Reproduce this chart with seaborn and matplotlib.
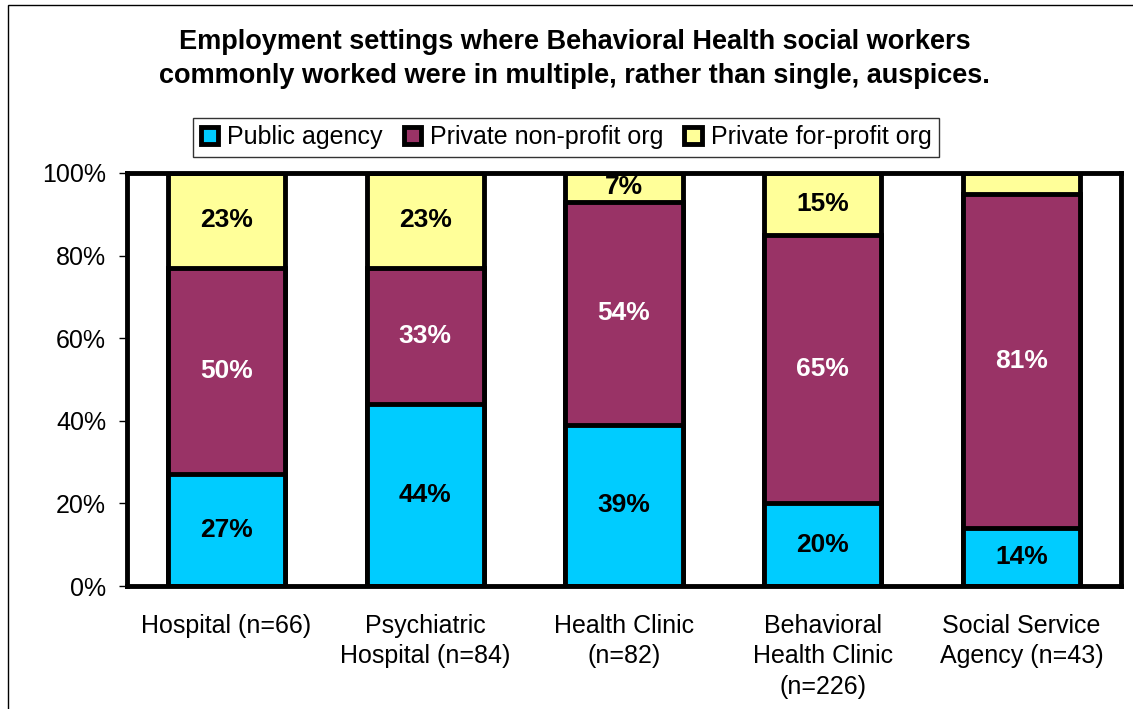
import matplotlib
matplotlib.use("Agg")
import matplotlib.pyplot as plt
import seaborn as sns
import pandas as pd
import numpy as np
from matplotlib.patches import Rectangle, Patch

categories = ["Hospital (n=66)", "Psychiatric\nHospital (n=84)", "Health Clinic\n(n=82)",
              "Behavioral\nHealth Clinic\n(n=226)", "Social Service\nAgency (n=43)"]
public = [27, 44, 39, 20, 14]
nonprofit = [50, 33, 54, 65, 81]
forprofit = [23, 23, 7, 15, 5]
forprofit_labels = ["23%", "23%", "7%", "15%", ""]
series_names = ["Public agency", "Private non-profit org", "Private for-profit org"]
colors = ["#00CCFF", "#993366", "#FFFF99"]

sns.set_theme(style="white")
plt.rcParams['font.family'] = ['Liberation Sans', 'DejaVu Sans']
plt.rcParams['text.color'] = 'black'
plt.rcParams['xtick.color'] = 'black'
plt.rcParams['ytick.color'] = 'black'
plt.rcParams['axes.labelcolor'] = 'black'

fig = plt.figure(figsize=(11.33, 7.09), dpi=100)
ax = fig.add_axes([127/1133, 1-586/709, (1121-127)/1133, (586-173)/709])

df = pd.DataFrame({"cat": categories, "public": public, "nonprofit": nonprofit, "forprofit": forprofit})
df["c1"] = df["public"]
df["c2"] = df["public"] + df["nonprofit"]
df["c3"] = df["c2"] + df["forprofit"]

for col, colr in zip(["c3", "c2", "c1"], colors[::-1]):
    sns.barplot(data=df, x="cat", y=col, color=colr, width=0.59, edgecolor="black",
                linewidth=3.5, saturation=1, ax=ax, order=categories)

lab_fs = 19
for i in range(len(categories)):
    ax.text(i, public[i]/2, f"{public[i]}%", ha="center", va="center", fontsize=lab_fs, fontweight="bold", color="black")
    ax.text(i, public[i] + nonprofit[i]/2, f"{nonprofit[i]}%", ha="center", va="center", fontsize=lab_fs, fontweight="bold", color="white")
    if forprofit_labels[i]:
        ax.text(i, public[i] + nonprofit[i] + forprofit[i]/2, forprofit_labels[i], ha="center", va="center",
                fontsize=lab_fs, fontweight="bold", color="black")

ax.set_ylim(0, 100)
ax.set_xlim(-0.5, len(categories) - 0.5)
ax.set_yticks([0, 20, 40, 60, 80, 100])
ax.set_yticklabels([f"{v}%" for v in [0, 20, 40, 60, 80, 100]], fontsize=18)
ax.set_xticks(range(len(categories)))
ax.set_xticklabels(categories, fontsize=18, linespacing=1.35)
ax.set_xticks(np.arange(-0.5, len(categories), 1), minor=True)
ax.tick_params(axis="x", which="major", length=0, pad=20)
ax.tick_params(axis="x", which="minor", length=6, width=1, direction="out", color="black")
ax.tick_params(axis="y", which="major", length=6, width=1, direction="out", color="black", left=True, pad=9)
ax.set_xlabel("")
ax.set_ylabel("")
for s in ax.spines.values():
    s.set_visible(True)
    s.set_color("black")
    s.set_linewidth(3.5)
ax.set_facecolor("white")

fig.text(0.507, 1-59/709, "Employment settings where Behavioral Health social workers\ncommonly worked were in multiple, rather than single, auspices.",
         ha="center", va="center", fontsize=19.5, fontweight="bold", linespacing=1.42)

handles = [Patch(facecolor=c, edgecolor="black", linewidth=3.5) for c in colors]
leg = fig.legend(handles, series_names, loc="center", bbox_to_anchor=(566/1133, 1-137/709), ncol=3,
                 fontsize=18, frameon=True, fancybox=False, edgecolor="black", handlelength=0.7,
                 handleheight=0.7, handletextpad=0.35, columnspacing=0.85, borderpad=0.3, borderaxespad=0)
leg.get_frame().set_linewidth(1)

fig.patches.append(Rectangle((8/1133, -0.1), 2, 1.1 - 5/709, transform=fig.transFigure,
                             fill=False, edgecolor="black", linewidth=1))

fig.savefig("out.png", dpi=100, facecolor="white")
